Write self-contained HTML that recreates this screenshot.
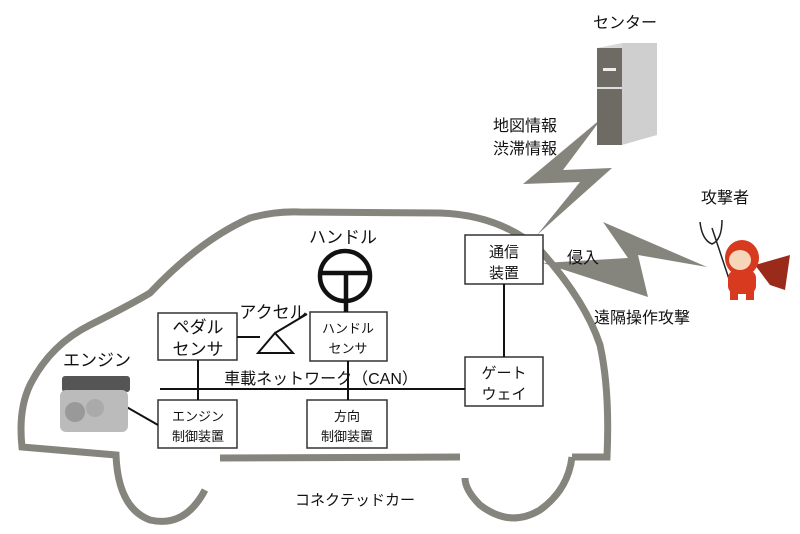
<!DOCTYPE html>
<html><head><meta charset="utf-8"><style>
body{margin:0;background:#fff;}
svg text{font-family:"Liberation Sans","Noto Sans CJK JP",sans-serif;fill:#111;}
</style></head><body>
<svg width="800" height="529" viewBox="0 0 800 529" xmlns="http://www.w3.org/2000/svg">
<g fill="none" stroke="#85857d" stroke-width="7">
<path d="M205,490 Q185,528 150,520 Q118,508 116,455 L22,447 Q18,410 30,385 Q50,345 90,325 Q130,305 150,293 Q200,240 250,218 Q275,211 300,212 L440,213 Q500,215 540,250 Q585,300 600,345 Q610,390 607,457 L572,457"/>
<path d="M572,457 Q568,490 540,510 Q510,528 480,505 Q465,490 465,478"/>
<path d="M220,458 L460,457"/>
</g>
<!-- bolts -->
<polygon points="602,118 523,184 580,182 537,235 612,168 563,170" fill="#85857d"/>
<polygon points="543,263 628,258 603,222 707,267 638,255 648,297" fill="#85857d"/>
<!-- server -->
<polygon points="597,48 622,43 657,43 632,48" fill="#d8d8d8"/>
<rect x="622" y="43" width="35" height="92" fill="#d4d4d4"/>
<polygon points="622,43 657,43 657,135 622,145" fill="#cfcfcf"/>
<rect x="597" y="48" width="25" height="97" fill="#6e6a64"/>
<line x1="597" y1="88" x2="622" y2="88" stroke="#ddd" stroke-width="2"/>
<rect x="603" y="68" width="13" height="3" fill="#eee"/>
<!-- boxes -->
<g fill="#fff" stroke="#333" stroke-width="1.5">
<rect x="465" y="235" width="78" height="49"/>
<rect x="465" y="357" width="78" height="49"/>
<rect x="158" y="313" width="79" height="47"/>
<rect x="310" y="312" width="77" height="49"/>
<rect x="158" y="400" width="79" height="48"/>
<rect x="307" y="400" width="80" height="48"/>
</g>
<g stroke="#111" stroke-width="2" fill="none">
<line x1="160" y1="389" x2="465" y2="389"/>
<line x1="198" y1="360" x2="198" y2="400"/>
<line x1="348" y1="361" x2="348" y2="400"/>
<line x1="504" y1="284" x2="504" y2="357"/>
<line x1="237" y1="337" x2="260" y2="337"/>
<polygon points="258,353 293,353 275,333"/>
<line x1="275" y1="333" x2="307" y2="314"/>
<line x1="123" y1="405" x2="158" y2="425"/>
<circle cx="345" cy="276" r="25" stroke-width="4.5"/>
<line x1="321" y1="273" x2="369" y2="273" stroke-width="4.5"/>
<line x1="346" y1="273" x2="346" y2="312" stroke-width="4.5"/>
</g>
<!-- engine -->
<rect x="62" y="376" width="68" height="16" rx="3" fill="#555"/>
<rect x="60" y="390" width="68" height="42" rx="6" fill="#bbb"/>
<circle cx="75" cy="412" r="10" fill="#999"/><circle cx="95" cy="408" r="9" fill="#aaa"/>
<!-- devil -->
<g>
<line x1="712" y1="228" x2="735" y2="297" stroke="#222" stroke-width="1.5"/>
<path d="M700,222 Q702,240 712,244 Q722,240 722,220" fill="none" stroke="#222" stroke-width="1.5"/>
<polygon points="755,265 790,255 785,290 770,285" fill="#9a2a1a"/>
<ellipse cx="742" cy="258" rx="17" ry="18" fill="#d83a20"/>
<ellipse cx="740" cy="260" rx="11" ry="10" fill="#f6d6b8"/>
<rect x="728" y="270" width="28" height="24" rx="8" fill="#d83a20"/>
<rect x="730" y="290" width="8" height="10" fill="#d83a20"/><rect x="746" y="290" width="8" height="10" fill="#d83a20"/>
</g>
<!-- texts -->
<g font-size="15" text-anchor="middle">
<text x="504" y="257">通信</text><text x="504" y="278">装置</text>
<text x="504" y="378">ゲート</text><text x="504" y="399">ウェイ</text>
<text x="198" y="333" font-size="17">ペダル</text><text x="198" y="355" font-size="17">センサ</text>
<text x="348" y="333" font-size="13">ハンドル</text><text x="348" y="353" font-size="13">センサ</text>
<text x="198" y="421" font-size="13">エンジン</text><text x="198" y="441" font-size="13">制御装置</text>
<text x="347" y="421" font-size="13">方向</text><text x="347" y="441" font-size="13">制御装置</text>
<text x="343" y="243" font-size="17">ハンドル</text>
<text x="273" y="318" font-size="17">アクセル</text>
<text x="97" y="366" font-size="17">エンジン</text>
<text x="321" y="384" font-size="16">車載ネットワーク（CAN）</text>
<text x="355" y="505" font-size="15">コネクテッドカー</text>
<text x="625" y="28" font-size="16">センター</text>
<text x="525" y="131" font-size="16">地図情報</text>
<text x="525" y="154" font-size="16">渋滞情報</text>
<text x="725" y="203" font-size="16">攻撃者</text>
<text x="583" y="263" font-size="16">侵入</text>
<text x="642" y="323" font-size="16">遠隔操作攻撃</text>
</g>
</svg>
</body></html>
